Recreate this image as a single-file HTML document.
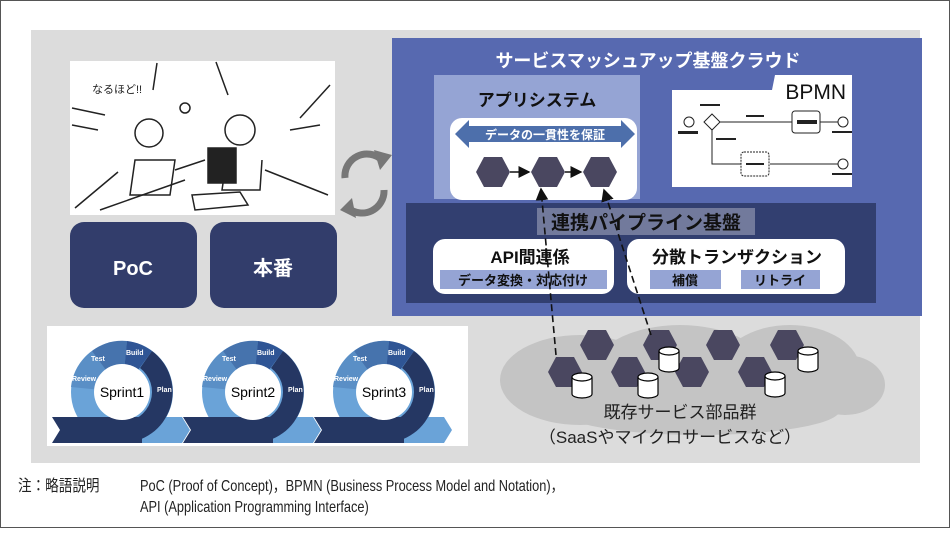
<!DOCTYPE html>
<html><head><meta charset="utf-8"><style>
body{margin:0;width:950px;height:528px;overflow:hidden;background:#fff;font-family:"Liberation Sans","Noto Sans CJK JP",sans-serif}
svg text{font-family:"Liberation Sans","Noto Sans CJK JP",sans-serif}
</style></head><body>
<svg width="950" height="528" viewBox="0 0 950 528" xmlns="http://www.w3.org/2000/svg">
<defs>
<polygon id="hx" points="-17,0 -9,-15 9,-15 17,0 9,15 -9,15"/>
<g id="cyl"><path d="M-10,-9 v17 a10,4 0 0 0 20,0 v-17" fill="#fff" stroke="#000" stroke-width="1.2"/><ellipse cx="0" cy="-9" rx="10" ry="4" fill="#fff" stroke="#000" stroke-width="1.2"/></g>
<marker id="ar" markerWidth="8" markerHeight="8" refX="7" refY="4" orient="auto"><path d="M0,0 L8,4 L0,8z" fill="#111"/></marker>
<g id="spr">
<polygon points="0,25 60,25 68,38 60,51 0,51" fill="#6aa3d8"/>
<circle r="51" fill="#6aa3d8"/>
<path d="M0,0 L-51,-5 A51,51 0 0 1 -30,-41 z" fill="#5a8fc6"/>
<path d="M0,0 L-30,-41 A51,51 0 0 1 5,-51 z" fill="#4673ad"/>
<path d="M0,0 L5,-51 A51,51 0 0 1 30,-41 z" fill="#2f5595"/>
<path d="M30,-41 A51,51 0 0 1 0,51 L0,30 A30,30 0 0 0 18,-24 z" fill="#253763"/>
<polygon points="-70,25 20,25 20,51 -70,51 -62,38" fill="#253763"/>
<circle r="28" fill="#fff"/>
</g>
</defs>
<rect x="0.5" y="0.5" width="949" height="527" fill="#fff" stroke="#555"/>
<rect x="31" y="30" width="889" height="433" fill="#dcdcdc"/>
<!-- sketch -->
<rect x="70" y="61" width="265" height="154" fill="#fff"/>
<g stroke="#222" stroke-width="1.5" fill="none">
<path d="M72,108 L105,115 M72,125 L98,130 M157,63 L153,90 M216,62 L228,95 M330,85 L300,118 M320,125 L290,130 M75,208 L118,172 M100,210 L185,180 M265,170 L328,195"/>
<circle cx="149" cy="133" r="14"/><path d="M135,160 L130,195 L170,195 L175,160 z"/>
<circle cx="240" cy="130" r="15"/><path d="M228,150 L222,190 L260,190 L262,160"/>
<rect x="208" y="148" width="28" height="35" fill="#222"/>
<path d="M175,170 L205,160 M192,195 L240,192 L248,205 L195,210 z"/>
<circle cx="185" cy="108" r="5"/>
</g>
<text x="92" y="93" font-size="11" fill="#222">なるほど!!</text>
<!-- PoC / 本番 -->
<rect x="70" y="222" width="127" height="86" rx="14" fill="#323d6b"/>
<rect x="210" y="222" width="127" height="86" rx="14" fill="#323d6b"/>
<text x="133" y="275" font-size="20" fill="#fff" text-anchor="middle" font-weight="bold">PoC</text>
<text x="273" y="275" font-size="20" fill="#fff" text-anchor="middle" font-weight="bold">本番</text>
<!-- cycle icon -->
<g fill="none" stroke="#777" stroke-width="7">
<path d="M345,178 A22,22 0 0 1 382,160"/><path d="M384,190 A22,22 0 0 1 348,208"/>
</g>
<path d="M374,150 L392,155 L380,170z M356,218 L340,210 L352,198z" fill="#777"/>
<!-- sprints -->
<rect x="47" y="326" width="421" height="120" fill="#fff"/>
<use href="#spr" x="122" y="392"/>
<use href="#spr" x="253" y="392"/>
<use href="#spr" x="384" y="392"/>
<g font-size="14" text-anchor="middle" fill="#000">
<text x="122" y="397">Sprint1</text><text x="253" y="397">Sprint2</text><text x="384" y="397">Sprint3</text></g>
<g font-size="7" fill="#fff" font-weight="bold">
<text x="91" y="361">Test</text><text x="126" y="355">Build</text><text x="72" y="381">Review</text><text x="157" y="392">Plan</text>
<text x="222" y="361">Test</text><text x="257" y="355">Build</text><text x="203" y="381">Review</text><text x="288" y="392">Plan</text>
<text x="353" y="361">Test</text><text x="388" y="355">Build</text><text x="334" y="381">Review</text><text x="419" y="392">Plan</text>
</g>
<!-- cloud -->
<g fill="#c4c4c4">
<ellipse cx="580" cy="380" rx="80" ry="45"/><ellipse cx="680" cy="375" rx="90" ry="50"/><ellipse cx="790" cy="370" rx="70" ry="45"/><ellipse cx="845" cy="385" rx="40" ry="30"/><ellipse cx="700" cy="410" rx="140" ry="25"/>
</g>
<g fill="#4a4760">
<use href="#hx" x="597" y="345"/><use href="#hx" x="565" y="372"/><use href="#hx" x="628" y="372"/><use href="#hx" x="660" y="345"/><use href="#hx" x="692" y="372"/><use href="#hx" x="723" y="345"/><use href="#hx" x="755" y="372"/><use href="#hx" x="787" y="345"/>
</g>
<use href="#cyl" x="582" y="386"/><use href="#cyl" x="648" y="386"/><use href="#cyl" x="669" y="360"/><use href="#cyl" x="775" y="385"/><use href="#cyl" x="808" y="360"/>
<text x="680" y="418" font-size="17" fill="#222" text-anchor="middle">既存サービス部品群</text>
<text x="670" y="443" font-size="17" fill="#222" text-anchor="middle">（SaaSやマイクロサービスなど）</text>
<!-- cloud main -->
<rect x="392" y="38" width="530" height="278" fill="#5769b0"/>
<text x="648" y="67" font-size="18" fill="#fff" text-anchor="middle" font-weight="bold">サービスマッシュアップ基盤クラウド</text>
<rect x="434" y="75" width="206" height="124" fill="#95a4d4"/>
<text x="537" y="106" font-size="17" fill="#111" text-anchor="middle" font-weight="bold">アプリシステム</text>
<rect x="450" y="118" width="187" height="82" rx="12" fill="#fff"/>
<polygon points="455,134 469,120 469,126 621,126 621,120 635,134 621,148 621,142 469,142 469,148" fill="#4d6fab"/>
<text x="545" y="139" font-size="12" fill="#fff" text-anchor="middle" font-weight="bold">データの一貫性を保証</text>
<g fill="#4a4760"><use href="#hx" x="493" y="172"/><use href="#hx" x="548" y="172"/><use href="#hx" x="600" y="172"/></g>
<g stroke="#111" stroke-width="1.5"><line x1="510" y1="172" x2="529" y2="172" marker-end="url(#ar)"/><line x1="565" y1="172" x2="581" y2="172" marker-end="url(#ar)"/></g>
<path d="M672,90 L772,90 L775,75 L852,75 L852,187 L672,187z" fill="#fff"/>
<text x="846" y="99" font-size="21" fill="#111" text-anchor="end">BPMN</text>
<g stroke="#222" stroke-width="1" fill="#fff">
<circle cx="689" cy="122" r="5"/><polygon points="712,114 720,122 712,130 704,122"/>
<line x1="720" y1="122" x2="792" y2="122"/><rect x="792" y="111" width="28" height="22" rx="3"/>
<line x1="820" y1="122" x2="838" y2="122"/><circle cx="843" cy="122" r="5"/>
<polyline points="712,130 712,164 741,164" fill="none"/>
<rect x="741" y="152" width="28" height="24" rx="3" stroke-dasharray="2,1"/>
<line x1="770" y1="164" x2="838" y2="164"/><circle cx="843" cy="164" r="5"/>
</g>
<g fill="#222"><rect x="678" y="131" width="20" height="3"/><rect x="700" y="104" width="20" height="2"/><rect x="746" y="115" width="18" height="2"/><rect x="716" y="138" width="20" height="2"/><rect x="797" y="120" width="20" height="4"/><rect x="832" y="131" width="20" height="2"/><rect x="746" y="163" width="18" height="2"/><rect x="832" y="173" width="20" height="2"/></g>
<!-- pipeline -->
<rect x="406" y="203" width="470" height="100" fill="#323f70"/>
<rect x="537" y="208" width="218" height="27" fill="#727a9c"/>
<text x="646" y="229" font-size="19" fill="#111" text-anchor="middle" font-weight="bold">連携パイプライン基盤</text>
<rect x="433" y="239" width="181" height="55" rx="12" fill="#fff"/>
<rect x="627" y="239" width="218" height="55" rx="12" fill="#fff"/>
<text x="530" y="263" font-size="17" fill="#111" text-anchor="middle" font-weight="bold">API間連係</text>
<text x="737" y="263" font-size="17" fill="#111" text-anchor="middle" font-weight="bold">分散トランザクション</text>
<rect x="440" y="270" width="167" height="19" fill="#95a4d4"/>
<rect x="650" y="270" width="71" height="19" fill="#95a4d4"/>
<rect x="741" y="270" width="79" height="19" fill="#95a4d4"/>
<text x="523" y="285" font-size="13" fill="#111" text-anchor="middle" font-weight="bold">データ変換・対応付け</text>
<text x="685" y="285" font-size="13" fill="#111" text-anchor="middle" font-weight="bold">補償</text>
<text x="780" y="285" font-size="13" fill="#111" text-anchor="middle" font-weight="bold">リトライ</text>
<!-- dashed -->
<g stroke="#111" stroke-width="1.6" stroke-dasharray="7,4" fill="none">
<line x1="556" y1="355" x2="541" y2="189" marker-end="url(#ar)"/>
<line x1="651" y1="335" x2="604" y2="190" marker-end="url(#ar)"/>
</g>
<!-- note -->
<g font-size="16" fill="#222">
<text x="18" y="491" transform="translate(18 0) scale(0.85 1) translate(-18 0)">注：略語説明</text>
<text x="140" y="491" transform="translate(140 0) scale(0.8 1) translate(-140 0)">PoC (Proof of Concept)，BPMN (Business Process Model and Notation)，</text>
<text x="140" y="512" transform="translate(140 0) scale(0.8 1) translate(-140 0)">API (Application Programming Interface)</text>
</g>
</svg>
</body></html>
